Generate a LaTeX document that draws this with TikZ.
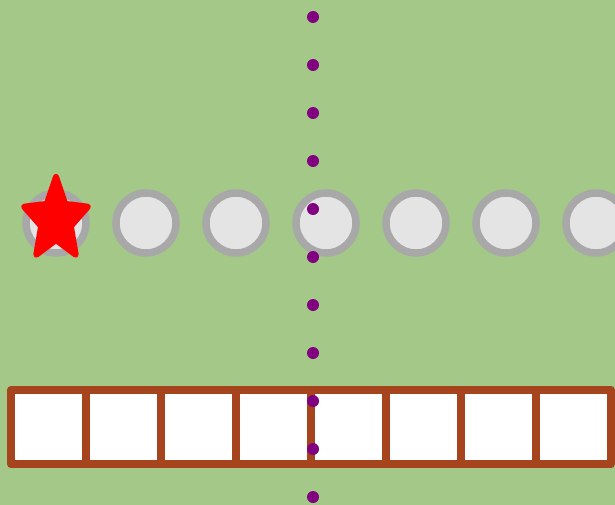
\documentclass[tikz,border=0pt]{standalone}
\usepackage{xcolor}
\usepackage{tikz}
\usetikzlibrary{positioning}
\definecolor{meadow}{HTML}{A3C888}
\definecolor{plum}{HTML}{800080}
\definecolor{rust}{HTML}{A5441D}
\definecolor{ringgrey}{HTML}{A8A8A8}
\definecolor{slotfill}{HTML}{E4E4E4}
\tikzset{
    every picture/.style={line cap=round,line join=round},
    slot/.style={circle,draw=ringgrey,fill=slotfill,line width=7.5pt,
      minimum size=60pt,inner sep=0pt,outer sep=0pt},
    cell/.style={rectangle,draw=rust,fill=white,line width=8pt,
      minimum width=75pt,minimum height=74.5pt,inner sep=0pt,outer sep=0pt},
    dot/.style={circle,fill=plum,minimum size=12pt,inner sep=0pt},
    starmark/.style={fill=red,draw=red,line width=6pt,line join=round}
}

\begin{document}
\begin{tikzpicture}[x=1pt,y=-1pt]
  % background
  \fill[meadow] (0,0) rectangle (615,505);
  \useasboundingbox (0,0) rectangle (615,505);
  % row of slots
  \foreach \k in {0,...,6}
    \node[slot] (slot\k) at (56+90*\k,223) {};
  % start mark
  \begin{scope}[shift={(slot0.center)},shift={(0,-3)},x=0.78pt,y=1pt]
    \filldraw[starmark] (90:43) -- (126:20) -- (162:43) -- (198:20) -- (234:43)
      -- (270:20) -- (306:43) -- (342:20) -- (18:43) -- (54:20) -- cycle;
  \end{scope}
  % strip of cells
  \node[cell] (cell1) at (48.5,427) {};
  \foreach \k [remember=\k as \prev (initially 1)] in {2,...,8}
    \node[cell,right=0pt of cell\prev] (cell\k) {};
  % dotted axis
  \foreach \k in {0,...,10}
    \node[dot] (dot\k) at (313,17+48*\k) {};
\end{tikzpicture}
\end{document}
